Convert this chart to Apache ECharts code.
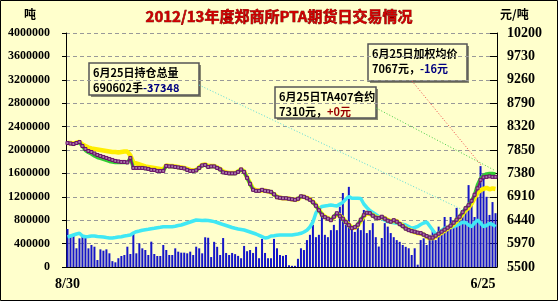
<!DOCTYPE html>
<html><head><meta charset="utf-8">
<script src="https://cdn.jsdelivr.net/npm/echarts@6/dist/echarts.min.js"></script>
<style>html,body{margin:0;padding:0;background:#FFFFCC}#c{width:558px;height:301px}</style>
</head><body><div id="c"></div>
<script>
const endLabels = ['8/30', '6/25'];
const leftTicks = { min: 0, max: 4000000, interval: 400000 };
const rightTicks = { min: 5500, max: 10200, interval: 470 };

// 成交量 (吨)
const volume = [650000,530000,560000,320000,490000,530000,518000,319000,376000,347000,
120000,302000,279000,302000,234000,100000,80000,150000,188000,205000,
347000,222000,576000,234000,405000,319000,291000,205000,433000,222000,
188000,188000,376000,291000,205000,205000,319000,262000,245000,245000,
234000,262000,205000,347000,319000,234000,508000,500000,170000,430000,
345000,205000,495000,240000,205000,240000,220000,190000,150000,360000,
270000,290000,240000,345000,150000,480000,240000,150000,150000,480000,
320000,205000,190000,205000,30000,20000,20000,140000,320000,290000,
460000,550000,720000,510000,550000,920000,550000,510000,630000,720000,
630000,1030000,1265000,720000,1370000,690000,600000,690000,630000,975000,
580000,630000,750000,510000,350000,495000,750000,690000,580000,510000,
460000,430000,376000,345000,320000,205000,320000,40000,460000,490000,
376000,550000,630000,460000,690000,600000,855000,630000,855000,690000,
1010000,805000,940000,1030000,1400000,1145000,855000,1200000,1725000,1600000,
1200000,890000,1110000,920000];

// 持仓总量 (手)
const openInterest = [513000,530000,547000,564000,576000,530000,518000,521000,530000,530000,
521000,518000,513000,504000,496000,496000,504000,513000,518000,530000,
538000,547000,581000,603000,615000,629000,638000,646000,655000,662000,
672000,680000,689000,689000,689000,689000,696000,709000,718000,735000,
752000,769000,786000,803000,800000,795000,798000,795000,786000,776000,
761000,744000,726000,709000,692000,675000,662000,650000,641000,632000,
615000,598000,581000,564000,542000,518000,496000,504000,530000,535000,
542000,547000,547000,547000,547000,547000,556000,564000,576000,598000,
629000,684000,769000,923000,1000000,1034000,1043000,1051000,1060000,1051000,
1043000,1077000,1103000,1162000,1205000,1174000,1174000,1174000,1171000,1077000,
1017000,966000,932000,897000,863000,829000,798000,774000,764000,756000,
747000,738000,730000,718000,692000,663000,675000,692000,726000,752000,
769000,701000,632000,564000,573000,624000,662000,672000,680000,689000,
709000,735000,764000,761000,718000,689000,752000,803000,752000,692000,
709000,744000,727950,690602];

// 主力合约收盘价 (元/吨)
const closePrice = [7990,7980,7970,7990,8010,7930,7870,7830,7810,7780,
7750,7730,7710,7690,7670,7650,7630,7620,7610,7610,
7600,7690,7490,7490,7490,7490,7480,7470,7450,7450,
7430,7430,7430,7530,7520,7520,7510,7500,7490,7480,
7450,7430,7430,7440,7490,7540,7550,7510,7520,7520,
7490,7460,7400,7390,7380,7380,7380,7410,7460,7410,
7290,7170,7050,7030,7030,7050,7030,7020,7010,6960,
6900,6890,6880,6880,6870,6860,6850,6870,6920,6910,
6880,6850,6800,6730,6640,6550,6500,6470,6440,6510,
6580,6520,6470,6400,6340,6280,6300,6350,6450,6540,
6590,6580,6530,6490,6480,6510,6470,6430,6410,6440,
6410,6360,6320,6270,6240,6220,6210,6190,6180,6150,
6120,6090,6090,6130,6170,6210,6250,6290,6330,6390,
6450,6510,6600,6680,6740,6830,6950,7080,7250,7300,
7310,7320,7310,7310];

// 加权均价 (元/吨)
const avgPrice = [7990,7990,7980,8000,8010,7960,7930,7900,7880,7870,
7860,7850,7840,7830,7820,7810,7810,7800,7810,7820,
7820,7740,7600,7580,7560,7540,7520,7510,7500,7490,
7480,7470,7460,7540,7530,7530,7520,7510,7500,7490,
7470,7450,7440,7450,7500,7550,7560,7530,7530,7530,
7500,7470,7420,7400,7390,7390,7390,7420,7460,7420,
7300,7180,7070,7040,7030,7040,7030,7020,7000,6960,
6910,6890,6880,6880,6870,6860,6850,6860,6910,6910,
6890,6860,6810,6740,6650,6560,6510,6480,6450,6500,
6570,6530,6480,6410,6350,6290,6290,6340,6430,6520,
6580,6570,6540,6500,6480,6500,6480,6440,6420,6430,
6420,6370,6330,6280,6250,6230,6200,6180,6170,6150,
6110,6080,6080,6110,6150,6190,6230,6270,6310,6360,
6420,6480,6560,6640,6690,6770,6880,6990,7040,7070,
7090,7060,7080,7067];

// 结算价 (元/吨)
const settlePrice = [7990,7980,7970,7990,8000,7920,7840,7800,7770,7730,
7700,7680,7660,7640,7620,7610,7600,7600,7600,7600,
7600,7690,7490,7490,7490,7490,7480,7470,7450,7450,
7430,7430,7430,7530,7520,7520,7510,7500,7490,7480,
7450,7430,7430,7440,7490,7540,7550,7510,7520,7520,
7490,7460,7400,7390,7380,7380,7380,7410,7460,7410,
7290,7170,7050,7030,7030,7050,7030,7020,7010,6960,
6900,6890,6880,6880,6870,6860,6850,6870,6920,6910,
6880,6850,6800,6730,6640,6550,6500,6470,6440,6510,
6580,6520,6470,6400,6340,6280,6300,6350,6450,6540,
6590,6580,6530,6490,6480,6510,6470,6430,6410,6440,
6410,6360,6320,6270,6240,6220,6210,6190,6180,6150,
6120,6090,6090,6130,6170,6210,6250,6290,6330,6390,
6450,6510,6600,6680,6740,6830,6950,7150,7280,7340,
7370,7380,7380,7370];

const n = closePrice.length;
const categories = closePrice.map((_, i) => i === 0 ? endLabels[0] : (i === n - 1 ? endLabels[1] : ''));

const serifB = 'Liberation Serif';
const cjk = '"Noto Sans CJK SC", sans-serif';

const chart = echarts.init(document.getElementById('c'), null, { renderer: 'canvas' });

function box(x, y, w, h, lines) {
  const children = [
    { type: 'rect', shape: { x: x + 2, y: y + 2, width: w, height: h }, style: { fill: '#8a8a70' } },
    { type: 'rect', shape: { x: x, y: y, width: w, height: h }, style: { fill: '#FFFFCC', stroke: '#555', lineWidth: 1.5 } }
  ];
  lines.forEach((ln, k) => {
    children.push({ type: 'text', x: x + 4, y: y + 4 + k * 15, style: { rich: ln.rich, text: ln.text, font: 'bold 11px ' + cjk, fill: '#000' } });
  });
  return { type: 'group', children: children, z: 100 };
}

function dotted(x1, y1, x2, y2, color) {
  return { type: 'line', shape: { x1, y1, x2, y2 }, style: { stroke: color, lineWidth: 1, lineDash: [1, 2] }, z: 90 };
}

const richSet = {
  k: { font: 'bold 11px ' + cjk, fill: '#000' },
  b: { font: 'bold 11px ' + cjk, fill: '#000080' },
  r: { font: 'bold 11px ' + cjk, fill: '#990000' }
};

chart.setOption({
  backgroundColor: '#FFFFCC',
  animation: false,
  grid: { left: 66, right: 61, top: 33, bottom: 34, containLabel: false },
  xAxis: {
    type: 'category', data: categories, boundaryGap: true,
    axisLine: { show: true, lineStyle: { color: '#000', width: 1 } },
    axisTick: { show: false },
    axisLabel: { interval: 0, margin: 10, color: '#000', fontFamily: serifB, fontWeight: 'bold', fontSize: 14,
      alignMinLabel: 'center', alignMaxLabel: 'right' }
  },
  yAxis: [
    { type: 'value', min: leftTicks.min, max: leftTicks.max, interval: leftTicks.interval,
      axisLine: { show: true, lineStyle: { color: '#000', width: 1 } },
      axisTick: { show: true, length: 4, lineStyle: { color: '#000' } },
      axisLabel: { margin: 16, color: '#000', fontFamily: serifB, fontWeight: 'bold', fontSize: 12, formatter: v => String(v) },
      splitLine: { show: true, lineStyle: { color: '#999', type: [4, 3], width: 1 } } },
    { type: 'value', min: rightTicks.min, max: rightTicks.max, interval: rightTicks.interval, alignTicks: true,
      position: 'right',
      axisLine: { show: true, lineStyle: { color: '#000', width: 1 } },
      axisTick: { show: true, inside: true, length: 7, lineStyle: { color: '#000' } },
      axisLabel: { margin: 10, color: '#000', fontFamily: serifB, fontWeight: 'bold', fontSize: 14, formatter: v => String(Math.round(v)) },
      splitLine: { show: false } }
  ],
  series: [
    { name: '成交量', type: 'bar', data: volume, yAxisIndex: 0, barWidth: 2,
      itemStyle: { color: '#1515c8' }, z: 2 },
    { name: '持仓总量', type: 'line', data: openInterest, yAxisIndex: 0, showSymbol: false,
      lineStyle: { color: '#40E8F4', width: 3.5 }, z: 3 },
    { name: '加权均价', type: 'line', data: avgPrice, yAxisIndex: 1, showSymbol: false,
      lineStyle: { color: '#FFEE00', width: 4.5 }, z: 4 },
    { name: '结算价', type: 'line', data: settlePrice, yAxisIndex: 1, showSymbol: false,
      lineStyle: { color: '#33CC33', width: 3.5 }, z: 5 },
    { name: 'TA主力', type: 'line', data: closePrice, yAxisIndex: 1, symbol: 'rect', symbolSize: 3, showAllSymbol: true,
      lineStyle: { color: '#7a1a7a', width: 2 }, itemStyle: { color: '#a87aa8', borderColor: '#6a106a', borderWidth: 1 }, z: 6 }
  ],
  graphic: [
    { type: 'rect', shape: { x: 0.5, y: 0.5, width: 557, height: 300 }, style: { fill: 'none', stroke: '#000', lineWidth: 1 }, z: 200 },
    { type: 'text', left: 'center', top: 8, style: { text: '2012/13年度郑商所PTA期货日交易情况', font: 'bold 15px ' + cjk, fill: '#CC0000', stroke: '#5a0000', lineWidth: 0.6 }, z: 100 },
    { type: 'text', x: 24, y: 8, style: { text: '吨', font: 'bold 12px ' + cjk, fill: '#000' } },
    { type: 'text', x: 500, y: 8, style: { text: '元/吨', font: 'bold 12px ' + cjk, fill: '#000' } },
    dotted(199, 85, 463, 210, '#55d8d8'),
    dotted(376, 108, 494, 170, '#44cc44'),
    dotted(412, 81, 481, 165, '#ee4444'),
    box(89, 63, 110, 32, [
      { text: '6月25日持仓总量', rich: richSet },
      { text: '{k|690602手}{b|-37348}', rich: richSet }
    ]),
    box(275, 87, 101, 31, [
      { text: '6月25日TA407合约', rich: richSet },
      { text: '{k|7310元，}{r|+0元}', rich: richSet }
    ]),
    box(368, 44, 99, 37, [
      { text: '6月25日加权均价', rich: richSet },
      { text: '{k|7067元，}{b|-16元}', rich: richSet }
    ])
  ]
});
</script></body></html>
